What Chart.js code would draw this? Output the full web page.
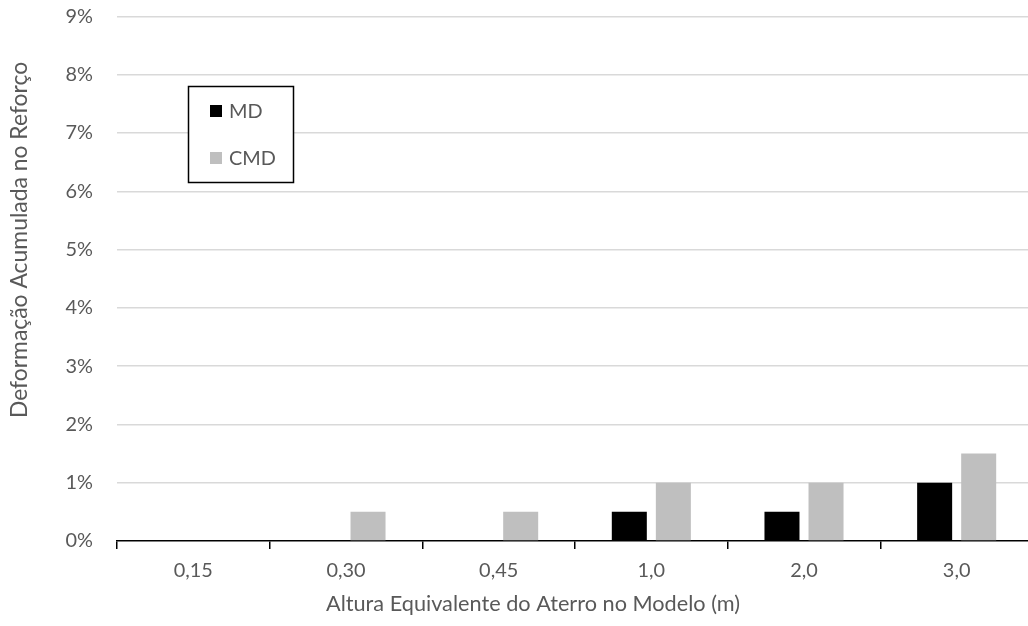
<!DOCTYPE html>
<html>
<head>
<meta charset="utf-8">
<script src="https://cdn.jsdelivr.net/npm/chart.js@4.4.1/dist/chart.umd.min.js"></script>
<style>
html,body{margin:0;padding:0;background:#fff;overflow:hidden;}
#wrap{width:1033px;height:626px;position:relative;}
</style>
</head>
<body>
<div id="wrap"><canvas id="c"></canvas></div>
<script>
const categories = ['0,15', '0,30', '0,45', '1,0', '2,0', '3,0'];
const seriesNames = ['MD', 'CMD'];
const mdValues = [0, 0, 0, 0.5, 0.5, 1.0];
const cmdValues = [0, 0.5, 0.5, 1.0, 1.0, 1.5];
const yTicks = [0, 1, 2, 3, 4, 5, 6, 7, 8, 9];
const xTitle = 'Altura Equivalente do Aterro no Modelo (m)';
const yTitle = 'Deformação Acumulada no Reforço';

const FONT = 'Lato, "Liberation Sans", sans-serif';
const TXT = '#595959';

// size fonts so text widths match the reference
const mctx = document.createElement('canvas').getContext('2d');
function fitSize(text, target) {
  mctx.font = '100px ' + FONT;
  return Math.round(100 * target / mctx.measureText(text).width * 10) / 10;
}
const xTitleSize = fitSize(xTitle, 414);
const yTitleSize = fitSize(yTitle, 356);
const tickSize = (fitSize('0,30', 37) + fitSize('9%', 29)) / 2;
const legendSize = fitSize('CMD', 47);

const customDraw = {
  id: 'customDraw',
  afterDatasetsDraw(chart) {
    const ctx = chart.ctx;
    ctx.save();
    // legend box
    ctx.fillStyle = '#fff';
    ctx.fillRect(188, 86, 105, 96);
    ctx.strokeStyle = '#000';
    ctx.lineWidth = 1.5;
    ctx.strokeRect(188.5, 86.5, 105, 96);
    const rows = [111, 158];
    chart.data.datasets.forEach((ds, i) => {
      ctx.fillStyle = ds.backgroundColor;
      ctx.fillRect(210, rows[i] - 6, 12, 12);
      ctx.fillStyle = TXT;
      ctx.font = legendSize + 'px ' + FONT;
      ctx.textBaseline = 'middle';
      ctx.textAlign = 'left';
      ctx.fillText(ds.label, 229, rows[i] + 1);
    });
    // axis titles
    ctx.fillStyle = TXT;
    ctx.textAlign = 'center';
    ctx.textBaseline = 'middle';
    ctx.font = xTitleSize + 'px ' + FONT;
    ctx.fillText(xTitle, 533, 604);
    ctx.translate(20, 240);
    ctx.rotate(-Math.PI / 2);
    ctx.font = yTitleSize + 'px ' + FONT;
    ctx.fillText(yTitle, 0, 0);
    ctx.restore();
  }
};

new Chart(document.getElementById('c'), {
  type: 'bar',
  data: {
    labels: categories,
    datasets: [
      { label: seriesNames[0], data: mdValues, backgroundColor: '#000000' },
      { label: seriesNames[1], data: cmdValues, backgroundColor: '#bfbfbf' }
    ]
  },
  options: {
    responsive: true,
    maintainAspectRatio: false,
    animation: false,
    devicePixelRatio: 1,
    categoryPercentage: 0.577,
    barPercentage: 0.795,
    layout: { padding: { top: 16.5, left: 0, right: 0, bottom: 0 } },
    plugins: { legend: { display: false }, tooltip: { enabled: false } },
    scales: {
      x: {
        grid: { display: true, drawOnChartArea: false, drawTicks: true, tickLength: 8, color: '#000', lineWidth: 1.5 },
        border: { display: true, color: '#000', width: 1.5 },
        ticks: { color: TXT, font: { family: FONT, size: tickSize }, padding: 10 },
        title: { display: false },
        afterFit(scale) { scale.height = 85; scale.paddingLeft = 0; scale.paddingRight = 0; }
      },
      y: {
        min: 0, max: 9,
        afterBuildTicks(scale) { scale.ticks = yTicks.map(v => ({ value: v })); },
        grid: { color: ctx => ctx.tick && ctx.tick.value === 0 ? 'rgba(0,0,0,0)' : '#d9d9d9', lineWidth: 1.5, drawTicks: false },
        border: { display: false },
        ticks: { color: TXT, font: { family: FONT, size: tickSize }, padding: 24, callback: v => v + '%' },
        title: { display: false },
        afterFit(scale) { scale.width = 117; scale.paddingTop = 0; scale.paddingBottom = 0; }
      }
    }
  },
  plugins: [customDraw]
});
</script>
</body>
</html>
